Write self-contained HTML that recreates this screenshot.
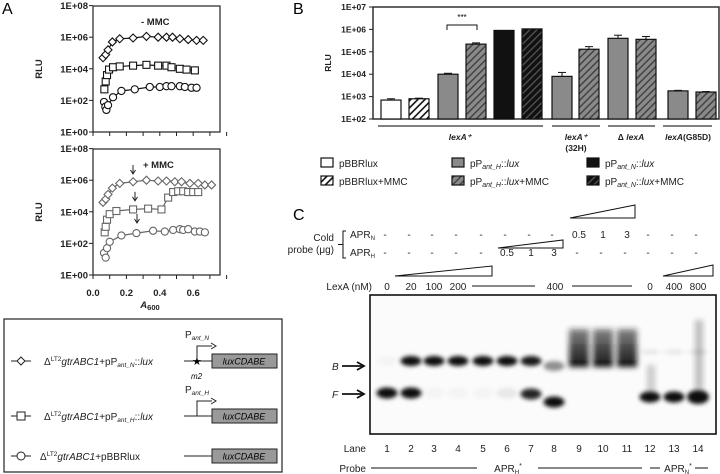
<!DOCTYPE html>
<html><head><meta charset="utf-8"><style>
html,body{margin:0;padding:0;background:#fff;}
svg{display:block;font-family:"Liberation Sans",Arial,sans-serif;}
.t{font-size:8.5px;font-weight:bold;fill:#222;}
.ta{font-size:9.5px;font-weight:bold;fill:#222;}
.n{font-size:10px;fill:#222;}
</style></head><body>
<svg id="fig" width="720" height="474" viewBox="0 0 720 474" xmlns="http://www.w3.org/2000/svg">
<defs>
<pattern id="hw" patternUnits="userSpaceOnUse" width="5" height="5" patternTransform="rotate(45)"><rect width="5" height="5" fill="#fff"/><rect width="1.6" height="5" fill="#111"/></pattern>
<pattern id="hg" patternUnits="userSpaceOnUse" width="5" height="5" patternTransform="rotate(45)"><rect width="5" height="5" fill="#8a8a8a"/><rect width="1.5" height="5" fill="#444"/></pattern>
<pattern id="hb" patternUnits="userSpaceOnUse" width="5" height="5" patternTransform="rotate(45)"><rect width="5" height="5" fill="#111"/><rect width="1.3" height="5" fill="#555"/></pattern>
<linearGradient id="sm" x1="0" y1="0" x2="0" y2="1"><stop offset="0" stop-color="#222" stop-opacity="0.55"/><stop offset="0.6" stop-color="#111" stop-opacity="0.8"/><stop offset="1" stop-color="#000" stop-opacity="0.95"/></linearGradient>
<filter id="bl" x="-50%" y="-100%" width="200%" height="300%"><feGaussianBlur stdDeviation="2.2"/></filter>
<filter id="bl2" x="-50%" y="-50%" width="200%" height="200%"><feGaussianBlur stdDeviation="3"/></filter>
</defs>
<text x="2" y="14" font-size="16">A</text>
<text x="293" y="14" font-size="16">B</text>
<text x="293" y="220" font-size="16">C</text>
<g id="pa"></g>
<g id="pb"></g>
<g id="pc"></g>

<g>
<rect x="4" y="319" width="278" height="153" fill="none" stroke="#222" stroke-width="1.2"/>
<g>
<line x1="11" y1="361" x2="31" y2="361" stroke="#222"/><path d="M21 357 L25 361 L21 365 L17 361Z" fill="#fff" stroke="#222"/>
<text x="44" y="365" class="n" font-size="10.5">Δ<tspan font-size="6.5" dy="-4">LT2</tspan><tspan dy="4" font-style="italic">gtrABC1</tspan>+pP<tspan font-size="6.5" dy="2" font-style="italic">ant_N</tspan><tspan dy="-2">::</tspan><tspan font-style="italic">lux</tspan></text>
<text x="185" y="338" class="n" font-size="10.5">P<tspan font-size="6.5" dy="2" font-style="italic">ant_N</tspan></text>
<line x1="184" y1="361" x2="212" y2="361" stroke="#222"/>
<path d="M197 361 V346 H212" fill="none" stroke="#222"/><path d="M211 343 L216 346 L211 349" fill="none" stroke="#222"/>
<text x="192" y="365" font-size="11">★</text>
<text x="191" y="379" font-size="8" font-style="italic">m2</text>
<rect x="212" y="354" width="65" height="14" fill="#999" stroke="#222"/>
<text x="244" y="364.5" text-anchor="middle" font-size="9" font-style="italic">luxCDABE</text>
</g>
<g>
<line x1="11" y1="416" x2="31" y2="416" stroke="#222"/><rect x="17" y="412" width="8" height="8" fill="#fff" stroke="#222"/>
<text x="44" y="420" class="n" font-size="10.5">Δ<tspan font-size="6.5" dy="-4">LT2</tspan><tspan dy="4" font-style="italic">gtrABC1</tspan>+pP<tspan font-size="6.5" dy="2" font-style="italic">ant_H</tspan><tspan dy="-2">::</tspan><tspan font-style="italic">lux</tspan></text>
<text x="185" y="393" class="n" font-size="10.5">P<tspan font-size="6.5" dy="2" font-style="italic">ant_H</tspan></text>
<line x1="184" y1="416" x2="212" y2="416" stroke="#222"/>
<path d="M197 416 V401 H212" fill="none" stroke="#222"/><path d="M211 398 L216 401 L211 404" fill="none" stroke="#222"/>
<rect x="212" y="409" width="65" height="14" fill="#999" stroke="#222"/>
<text x="244" y="419.5" text-anchor="middle" font-size="9" font-style="italic">luxCDABE</text>
</g>
<g>
<line x1="11" y1="456" x2="31" y2="456" stroke="#222"/><circle cx="21" cy="456" r="4" fill="#fff" stroke="#222"/>
<text x="40" y="460" class="n" font-size="10.5">Δ<tspan font-size="6.5" dy="-4">LT2</tspan><tspan dy="4" font-style="italic">gtrABC1</tspan>+pBBRlux</text>
<line x1="184" y1="456" x2="212" y2="456" stroke="#222"/>
<rect x="212" y="449" width="65" height="14" fill="#999" stroke="#222"/>
<text x="244" y="459.5" text-anchor="middle" font-size="9" font-style="italic">luxCDABE</text>
</g>
</g>
</svg>
<script>
// ---------- Panel A data ----------
const aTopDiamondX=[0.06,0.076,0.09,0.116,0.16,0.24,0.32,0.39,0.44,0.476,0.52,0.57,0.62,0.66];
const aTopDiamondLog=[4.7,4.9,5.2,5.7,5.9,5.95,6.05,6.0,6.0,6.0,5.9,5.85,5.8,5.8];
const aTopSquareX=[0.068,0.076,0.084,0.096,0.12,0.16,0.24,0.32,0.39,0.44,0.47,0.52,0.56,0.61];
const aTopSquareLog=[2.7,3.2,3.6,3.95,4.1,4.15,4.2,4.25,4.2,4.2,4.1,4.0,3.95,3.9];
const aTopCircleX=[0.066,0.074,0.08,0.09,0.12,0.17,0.25,0.34,0.4,0.44,0.47,0.52,0.55,0.59,0.62];
const aTopCircleLog=[1.9,1.6,1.4,1.7,2.2,2.6,2.7,2.85,2.85,2.9,2.9,2.9,2.85,2.8,2.8];
const aBotDiamondX=[0.06,0.076,0.09,0.116,0.16,0.24,0.32,0.39,0.44,0.49,0.53,0.58,0.63,0.67,0.71];
const aBotDiamondLog=[4.6,4.8,5.1,5.5,5.8,5.9,6.0,5.95,5.95,5.9,5.9,5.8,5.8,5.7,5.7];
const aBotSquareX=[0.07,0.076,0.084,0.1,0.14,0.24,0.33,0.41,0.45,0.48,0.51,0.54,0.57,0.6,0.63];
const aBotSquareLog=[2.7,3.05,3.5,3.85,4.05,4.15,4.2,4.15,4.9,5.25,5.3,5.3,5.25,5.25,5.25];
const aBotCircleX=[0.066,0.076,0.084,0.1,0.17,0.26,0.36,0.43,0.48,0.52,0.54,0.57,0.61,0.64,0.67];
const aBotCircleLog=[1.4,1.1,1.7,2.1,2.5,2.65,2.8,2.75,2.85,2.9,2.85,2.9,2.75,2.75,2.7];
const aYTicks=["1E+00","1E+02","1E+04","1E+06","1E+08"];
const aXTicks=["0.0","0.2","0.4","0.6"];
// ---------- Panel B data ----------
const bCategories=["pBBRlux","pBBRlux+MMC","pPantH","pPantH+MMC","pPantN","pPantN+MMC","32H-pPantH","32H-pPantH+MMC","dlexA-pPantH","dlexA-pPantH+MMC","G85D-pPantH","G85D-pPantH+MMC"];
const bValues=[700,800,10000,220000,900000,1050000,8000,130000,400000,360000,1800,1600];
const bErrors=[100,50,1000,30000,0,0,4000,40000,150000,120000,100,80];
const bFills=["#fff","url(#hw)","#8a8a8a","url(#hg)","#111","url(#hb)","#8a8a8a","url(#hg)","#8a8a8a","url(#hg)","#8a8a8a","url(#hg)"];
const bYTicks=["1E+02","1E+03","1E+04","1E+05","1E+06","1E+07"];
// ---------- Panel C data ----------
const cLanes=["1","2","3","4","5","6","7","8","9","10","11","12","13","14"];
const cAprN=["-","-","-","-","-","-","-","-","0.5","1","3","-","-","-"];
const cAprH=["-","-","-","-","-","0.5","1","3","-","-","-","-","-","-"];
const cBound=[0.03,1,1,1,1,1,0.95,0.45,0,0,0,0.1,0.1,0.1];
const cFree=[1,1,0.03,0.03,0.03,0.08,0.9,1,0,0,0,1,1,1];

const NS="http://www.w3.org/2000/svg";
function mk(parent,tag,attrs,text){const e=document.createElementNS(NS,tag);for(const k in attrs)e.setAttribute(k,attrs[k]);if(text!==undefined)e.textContent=text;parent.appendChild(e);return e;}

// Panel A
const pa=document.getElementById('pa');
const ax=v=>93+v*167;
function drawA(top,dx,dl,sx,sl,cx,cl,col,title,arrows){
  const ay=l=>top+126-l*15.8;
  const g=mk(pa,'g',{});
  
  
  mk(g,'rect',{x:93,y:top,width:127,height:126,fill:'none',stroke:'#222','stroke-width':1.2});
  aYTicks.forEach((t,i)=>{const y=ay(i*2);mk(g,'line',{x1:89,x2:93,y1:y,y2:y,stroke:'#222'});
    mk(g,'text',{x:88,y:y+3.5,'text-anchor':'end',class:'ta'},t);});
  for(let i=0;i<=8;i++){const x=ax(i*0.1);mk(g,'line',{x1:x,x2:x,y1:top+126,y2:top+130,stroke:'#222'});}
  if(top>100)aXTicks.forEach((t,i)=>mk(g,'text',{x:ax(i*0.2),y:top+147,'text-anchor':'middle',class:'ta'},t));
  mk(g,'text',{x:42,y:top+63,transform:`rotate(-90 42 ${top+63})`,'text-anchor':'middle',class:'ta','font-size':11},'RLU');
  mk(g,'text',{x:top<100?141:143,y:top+19,class:'ta','font-size':11},title);
  const series=[[dx,dl,'d'],[sx,sl,'s'],[cx,cl,'c']];
  series.forEach(([X,L,sh])=>{
    const s=mk(g,'g',{});
    
    
    mk(s,'polyline',{points:X.map((x,i)=>ax(x)+','+ay(L[i])).join(' '),fill:'none',stroke:col,'stroke-width':1.2});
    X.forEach((x,i)=>{const px=ax(x),py=ay(L[i]);
      if(sh==='d')mk(s,'path',{d:`M${px} ${py-4}L${px+4} ${py}L${px} ${py+4}L${px-4} ${py}Z`,fill:'#fff',stroke:col,'stroke-width':1.1});
      else if(sh==='s')mk(s,'rect',{x:px-3.5,y:py-3.5,width:7,height:7,fill:'#fff',stroke:col,'stroke-width':1.1});
      else mk(s,'circle',{cx:px,cy:py,r:3.6,fill:'#fff',stroke:col,'stroke-width':1.1});});
  });
  if(arrows){[[133,5.95],[135,4.25],[137,2.85]].forEach(([x,l])=>{const y=ay(l)-7;
    mk(g,'line',{x1:x,x2:x,y1:y-9,y2:y,stroke:'#222'});mk(g,'path',{d:`M${x-2.5} ${y-4}L${x} ${y}L${x+2.5} ${y-4}`,fill:'none',stroke:'#222'});});}
}
drawA(6,aTopDiamondX,aTopDiamondLog,aTopSquareX,aTopSquareLog,aTopCircleX,aTopCircleLog,'#111','- MMC',false);
drawA(149,aBotDiamondX,aBotDiamondLog,aBotSquareX,aBotSquareLog,aBotCircleX,aBotCircleLog,'#666','+ MMC',true);
mk(pa,'text',{x:150,y:308,'text-anchor':'middle',class:'ta','font-style':'italic','font-size':11}).innerHTML='A<tspan font-size="7.5" dy="2" font-style="normal">600</tspan>';

// Panel B
const pb=document.getElementById('pb');
const by=v=>119-(Math.log10(v)-2)*22.4;
const bx=i=>[391,419,448,476,504,532,562,589,618,646,678,706][i];
mk(pb,'rect',{x:373,y:7,width:346,height:112,fill:'none',stroke:'#222','stroke-width':1.4});
bYTicks.forEach((t,i)=>{const y=119-i*22.4;mk(pb,'line',{x1:369,x2:373,y1:y,y2:y,stroke:'#222'});mk(pb,'text',{x:366,y:y+3,'text-anchor':'end',class:'t'},t);});
mk(pb,'text',{x:331,y:63,transform:'rotate(-90 331 63)','text-anchor':'middle',class:'t','font-size':10},'RLU');
bValues.forEach((v,i)=>{
  const r=mk(pb,'rect',{x:bx(i)-10,y:by(v),width:20,height:119-by(v),fill:bFills[i],stroke:'#111','stroke-width':1.2});
  
  
  if(bErrors[i]>0){const ye=by(v+bErrors[i]);mk(pb,'line',{x1:bx(i),x2:bx(i),y1:by(v),y2:ye,stroke:'#111'});mk(pb,'line',{x1:bx(i)-4,x2:bx(i)+4,y1:ye,y2:ye,stroke:'#111'});}
});
mk(pb,'path',{d:'M447 30V25H477V30',fill:'none',stroke:'#111'});
mk(pb,'text',{x:462,y:20,'text-anchor':'middle','font-size':8},'***');
[[378,543],[552,600],[608,655],[663,712]].forEach(([a,b])=>mk(pb,'line',{x1:a,x2:b,y1:126,y2:126,stroke:'#555','stroke-width':1.5}));
mk(pb,'text',{x:460,y:140,'text-anchor':'middle',class:'t','font-style':'italic'},'lexA⁺');
mk(pb,'text',{x:576,y:140,'text-anchor':'middle',class:'t','font-style':'italic'},'lexA⁺');
mk(pb,'text',{x:576,y:151,'text-anchor':'middle',class:'t'},'(32H)');
mk(pb,'text',{x:631,y:140,'text-anchor':'middle',class:'t'}).innerHTML='Δ <tspan font-style="italic">lexA</tspan>';
mk(pb,'text',{x:688,y:140,'text-anchor':'middle',class:'t'}).innerHTML='<tspan font-style="italic">lexA</tspan>(G85D)';
const legB=[[327,163,'#fff','pBBRlux'],[327,181,'url(#hw)','pBBRlux+MMC'],[458,163,'#8a8a8a','pP<tspan font-size="7" dy="2" font-style="italic">ant_H</tspan><tspan dy="-2">::</tspan><tspan font-style="italic">lux</tspan>'],[458,181,'url(#hg)','pP<tspan font-size="7" dy="2" font-style="italic">ant_H</tspan><tspan dy="-2">::</tspan><tspan font-style="italic">lux</tspan>+MMC'],[593,163,'#111','pP<tspan font-size="7" dy="2" font-style="italic">ant_N</tspan><tspan dy="-2">::</tspan><tspan font-style="italic">lux</tspan>'],[593,181,'url(#hb)','pP<tspan font-size="7" dy="2" font-style="italic">ant_N</tspan><tspan dy="-2">::</tspan><tspan font-style="italic">lux</tspan>+MMC']];
legB.forEach(([x,y,f,t])=>{const g=mk(pb,'g',{});
  
  
  mk(g,'rect',{x:x-6,y:y-5,width:12,height:9,fill:f,stroke:'#111','stroke-width':1.2});
  mk(g,'text',{x:x+12,y:y+4,class:'n','font-size':10.5}).innerHTML=t;});

// Panel C
const pc=document.getElementById('pc');
const lx=i=>[387,411,434,458,483,507,531,554,579,603,627,650,674,698][i];
mk(pc,'path',{d:'M570 218L635 205V218Z',fill:'#fff',stroke:'#111'});
mk(pc,'path',{d:'M498 248L563 240V248Z',fill:'#fff',stroke:'#111'});
mk(pc,'path',{d:'M395 276L492 266V276Z',fill:'#fff',stroke:'#111'});
mk(pc,'path',{d:'M663 276L713 265V276Z',fill:'#fff',stroke:'#111'});
mk(pc,'path',{d:'M346 231H343V258H346M343 244.5H338',fill:'none',stroke:'#111'});
mk(pc,'text',{x:334,y:241,'text-anchor':'end',class:'n'},'Cold');
mk(pc,'text',{x:334,y:253,'text-anchor':'end',class:'n'},'probe (μg)');
mk(pc,'text',{x:350,y:238,class:'n','font-size':9.5}).innerHTML='APR<tspan font-size="6" dy="2">N</tspan>';
mk(pc,'text',{x:350,y:256,class:'n','font-size':9.5}).innerHTML='APR<tspan font-size="6" dy="2">H</tspan>';
cAprN.forEach((t,i)=>mk(pc,'text',{x:lx(i)+(t==='-'?-2:0),y:238,'text-anchor':'middle',class:'n'},t));
cAprH.forEach((t,i)=>mk(pc,'text',{x:lx(i)+(t==='-'?-2:0),y:256,'text-anchor':'middle',class:'n'},t));
mk(pc,'text',{x:372,y:290,'text-anchor':'end',class:'n'},'LexA (nM)');
[['0',0],['20',1],['100',2],['200',3],['400',7],['0',11],['400',12],['800',13]].forEach(([t,i])=>mk(pc,'text',{x:i===7?555:lx(i),y:290,'text-anchor':'middle',class:'n'},t));
mk(pc,'line',{x1:472,x2:535,y1:286,y2:286,stroke:'#111'});
mk(pc,'line',{x1:572,x2:632,y1:286,y2:286,stroke:'#111'});
const gel=mk(pc,'g',{});


mk(gel,'rect',{x:370,y:295,width:346,height:139,fill:'#fbfbfb',stroke:'#111','stroke-width':1.6});
cBound.forEach((b,i)=>{if(b>0){mk(gel,'ellipse',{cx:lx(i),cy:i>=11?352:(i===7?366:361),rx:10.5,ry:i>=11?2:5,fill:'#000','fill-opacity':b*0.95,filter:'url(#bl)'});}});
cFree.forEach((f,i)=>{if(f>0){const cy=i===7?402:(i>=11?397:(i===6?394:393));mk(gel,'ellipse',{cx:lx(i),cy:cy,rx:i===13?11:10.5,ry:i===13?7:5.5,fill:'#000','fill-opacity':f*0.95,filter:'url(#bl)'});}});
[8,9,10].forEach(i=>{mk(gel,'rect',{x:lx(i)-10,y:329,width:20,height:38,fill:'url(#sm)',filter:'url(#bl2)'});});
mk(gel,'rect',{x:lx(13)-3,y:320,width:8,height:70,fill:'#000','fill-opacity':0.25,filter:'url(#bl2)'});
mk(gel,'rect',{x:lx(11)-3,y:365,width:8,height:28,fill:'#000','fill-opacity':0.2,filter:'url(#bl2)'});
mk(pc,'text',{x:332,y:370,class:'n','font-style':'italic','font-size':10.5},'B');
mk(pc,'text',{x:332,y:398,class:'n','font-style':'italic','font-size':10.5},'F');
[366,394].forEach(y=>{mk(pc,'line',{x1:342,x2:363,y1:y,y2:y,stroke:'#111','stroke-width':1.8});mk(pc,'path',{d:`M357 ${y-4}L364 ${y}L357 ${y+4}`,fill:'none',stroke:'#111','stroke-width':1.8});});
mk(pc,'text',{x:366,y:452,'text-anchor':'end',class:'n'},'Lane');
cLanes.forEach((t,i)=>mk(pc,'text',{x:lx(i),y:452,'text-anchor':'middle',class:'n'},t));
mk(pc,'text',{x:366,y:472,'text-anchor':'end',class:'n'},'Probe');
mk(pc,'line',{x1:371,x2:477,y1:468,y2:468,stroke:'#111'});
mk(pc,'line',{x1:538,x2:642,y1:468,y2:468,stroke:'#111'});
mk(pc,'text',{x:508,y:472,'text-anchor':'middle',class:'n'}).innerHTML='APR<tspan font-size="6" dy="2">H</tspan><tspan dy="-6" font-size="7">*</tspan>';
mk(pc,'line',{x1:650,x2:660,y1:468,y2:468,stroke:'#111'});
mk(pc,'line',{x1:695,x2:708,y1:468,y2:468,stroke:'#111'});
mk(pc,'text',{x:678,y:472,'text-anchor':'middle',class:'n'}).innerHTML='APR<tspan font-size="6" dy="2">N</tspan><tspan dy="-6" font-size="7">*</tspan>';
</script>
</body></html>
